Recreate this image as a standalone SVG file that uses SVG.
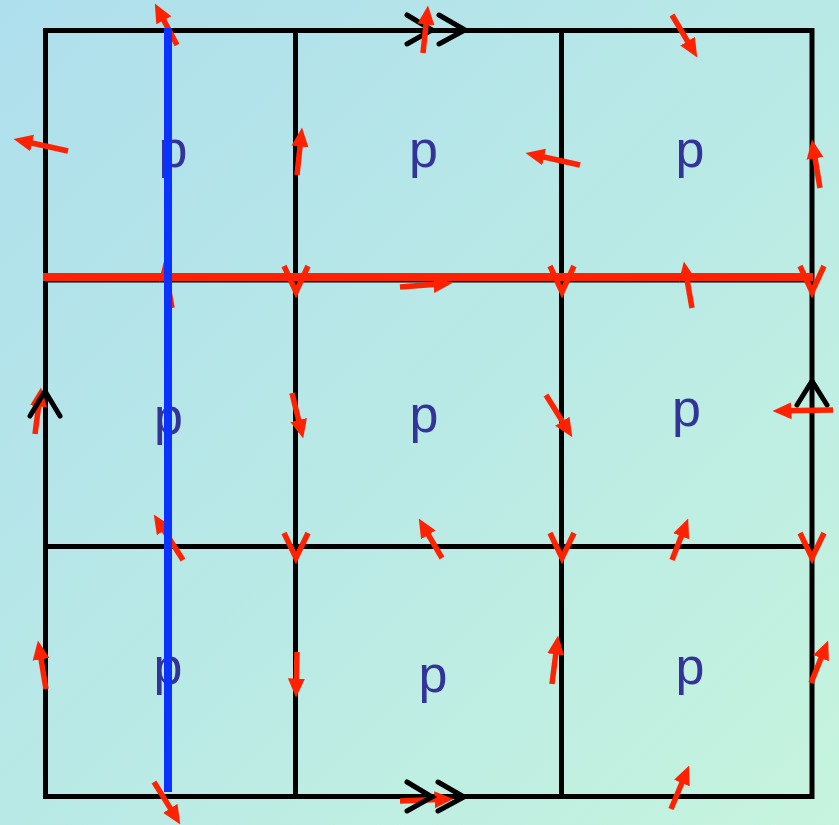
<svg xmlns="http://www.w3.org/2000/svg" width="839" height="825" viewBox="0 0 839 825">
  <defs>
    <linearGradient id="bg" x1="0" y1="0" x2="1" y2="1">
      <stop offset="0" stop-color="#aedfed"/>
      <stop offset="0.5" stop-color="#b9e9e6"/>
      <stop offset="1" stop-color="#c6f4de"/>
    </linearGradient>
    <marker id="ah" viewBox="0 -9 19 18" markerWidth="19" markerHeight="18" refX="9.5" refY="0" orient="auto" markerUnits="userSpaceOnUse">
      <path d="M0,-8.5 L19,0 L0,8.5 z" fill="#ff2200"/>
    </marker>
    <style>
      .p { font-family: "Liberation Sans", Arial, sans-serif; font-size: 52px; fill: #333399; text-anchor: middle; }
      .grid { stroke: #000; stroke-width: 5; fill: none; }
      .chev { stroke: #000; stroke-width: 5; fill: none; stroke-linecap: round; stroke-linejoin: miter; }
      .vee { stroke: #ff2200; stroke-width: 5.5; fill: none; stroke-linejoin: miter; }
      .arr { stroke: #ff2200; stroke-width: 5.5; fill: none; marker-end: url(#ah); }
    </style>
  </defs>
  <rect x="0" y="0" width="839" height="825" fill="url(#bg)"/>

  <g id="cells">
    <g id="cell-1-1"><text class="p" x="173" y="167">p</text></g>
    <g id="cell-1-2"><text class="p" x="423.5" y="167">p</text></g>
    <g id="cell-1-3"><text class="p" x="690" y="167">p</text></g>
    <g id="cell-2-1"><text class="p" x="168.5" y="434">p</text></g>
    <g id="cell-2-2"><text class="p" x="424" y="432">p</text></g>
    <g id="cell-2-3"><text class="p" x="686.5" y="426">p</text></g>
    <g id="cell-3-1"><text class="p" x="168" y="684">p</text></g>
    <g id="cell-3-2"><text class="p" x="433" y="692">p</text></g>
    <g id="cell-3-3"><text class="p" x="690" y="684">p</text></g>
  </g>

  <g id="grid" class="grid">
    <rect x="45.5" y="30.5" width="766.5" height="766"/>
    <line x1="295.5" y1="30.5" x2="295.5" y2="796.5"/>
    <line x1="561.5" y1="30.5" x2="561.5" y2="796.5"/>
    <line x1="45.5" y1="280" x2="812" y2="280"/>
    <line x1="45.5" y1="546.5" x2="812" y2="546.5"/>
  </g>

  <g id="red-line">
    <line x1="43" y1="277" x2="813" y2="277" stroke="#ff2200" stroke-width="8"/>
  </g>

  <g id="vees" class="vee">
    <polyline points="284,266 296,292 308,266"/>
    <polyline points="550,266 562,292 574,266"/>
    <polyline points="800,266 812,292 824,266"/>
    <polyline points="284,533 296,558 308,533"/>
    <polyline points="550,533 562,558 574,533"/>
    <polyline points="800,533 812,558 824,533"/>
  </g>

  <g id="connectors">
    <g id="arrows" class="arr">
      <line x1="177" y1="45" x2="159.3" y2="11.9"/>
      <line x1="68" y1="151" x2="22.8" y2="141"/>
      <line x1="172" y1="308" x2="165.5" y2="270.9"/>
      <line x1="297" y1="175" x2="301" y2="137"/>
      <line x1="580" y1="165" x2="534.8" y2="155"/>
      <line x1="672" y1="15" x2="692.4" y2="49.3"/>
      <line x1="820" y1="188" x2="813.5" y2="148.9"/>
      <line x1="400" y1="287" x2="443" y2="283.7"/>
      <line x1="692" y1="308" x2="685.5" y2="270.9"/>
      <line x1="35" y1="434" x2="39.8" y2="396.9"/>
      <line x1="292" y1="393" x2="300.9" y2="429.3"/>
      <line x1="546" y1="395" x2="567.3" y2="429.3"/>
      <line x1="442" y1="558" x2="423.6" y2="526.7"/>
      <line x1="672" y1="560" x2="684.7" y2="527.4"/>
      <line x1="183" y1="560" x2="158.9" y2="522.6"/>
      <line x1="46" y1="689" x2="39.5" y2="649.9"/>
      <line x1="154" y1="782" x2="175.3" y2="816.4"/>
      <line x1="297" y1="652" x2="296.2" y2="688"/>
      <line x1="552" y1="684" x2="556.9" y2="644.9"/>
      <line x1="400" y1="801" x2="444" y2="799.3"/>
      <line x1="811" y1="683" x2="824.6" y2="649.3"/>
      <line x1="671" y1="809" x2="685.5" y2="774.3"/>
    </g>
    <g id="chevrons" class="chev">
      <polyline points="407,15 432,30 407,44"/>
      <polyline points="439,15 465,30 439,44"/>
      <polyline points="407,782 432,797 407,811"/>
      <polyline points="438,782 464,797 438,811"/>
      <polyline points="30,416 45,391 60,416"/>
      <polyline points="797,405 812,381 827,405"/>
    </g>
    <g id="arrows-top" class="arr">
      <line x1="423" y1="53" x2="427" y2="15"/>
      <line x1="833" y1="410" x2="782" y2="410.8"/>
    </g>
  </g>

  <g id="blue-line">
    <line x1="168" y1="28" x2="168" y2="792" stroke="#0a33ff" stroke-width="8"/>
  </g>
</svg>
